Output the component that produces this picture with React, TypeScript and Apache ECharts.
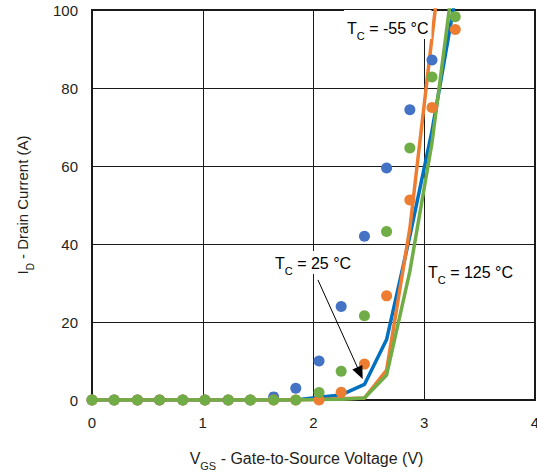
import React, { useEffect, useRef } from "react";
import * as echarts from "echarts";

const vgs = [0, 0.2, 0.41, 0.61, 0.82, 1.02, 1.23, 1.43, 1.64, 1.84, 2.05, 2.25, 2.46, 2.66, 2.87, 3.07, 3.28];

// measured points (dots)
const blueDots = [0, 0, 0, 0, 0, 0, 0, 0, 0.8, 3, 10, 24, 42, 59.5, 74.4, 87.2, null];
const orangeDots = [0, 0, 0, 0, 0, 0, 0, 0, 0, 0, 0, 2, 9.2, 26.7, 51.3, 75, 95];
const greenDots = [0, 0, 0, 0, 0, 0, 0, 0, 0, 0, 1.9, 7.4, 21.6, 43.2, 64.6, 82.8, 98.3];

// curves (lines)
const blueLine = [0, 0, 0, 0, 0, 0, 0, 0, 0, 0, 0.7, 1.3, 4, 15.5, 42, 69, 103];
const orangeLine = [0, 0, 0, 0, 0, 0, 0, 0, 0, 0, 0.1, 0.3, 0.5, 7.7, 44, 93, 144];
const greenLine = [0, 0, 0, 0, 0, 0, 0, 0, 0, 0, 0.1, 0.2, 0.5, 6.4, 33, 66, 112];

const xTicks = [0, 1, 2, 3, 4];
const yTicks = [0, 20, 40, 60, 80, 100];

// arrow for the 25 °C annotation: [start, end] in data units
const arrowStart = [2.04, 30.8];
const arrowEnd = [2.42, 6.9];

const FONT = "'Liberation Sans', Arial, sans-serif";
const TXT = "#231f20";

const zip = (xs: number[], ys: (number | null)[]) =>
  xs.map((x, i) => [x, ys[i]]).filter((p) => p[1] !== null);

export default function App() {
  const ref = useRef<HTMLDivElement>(null);
  useEffect(() => {
    if (!ref.current) return;
    const chart = echarts.init(ref.current, undefined, { renderer: "svg" });
    const lineSeries = (name: string, data: number[], color: string, extra: any = {}) => ({
      name,
      type: "line",
      data: zip(vgs, data),
      symbol: "none",
      smooth: false,
      lineStyle: { color, width: 3.5 },
      clip: true,
      z: 2,
      ...extra,
    });
    const dotSeries = (name: string, data: (number | null)[], color: string) => ({
      name,
      type: "scatter",
      data: zip(vgs, data),
      symbol: "circle",
      symbolSize: 11,
      itemStyle: { color, opacity: 1 },
      clip: true,
      z: 3,
    });
    const mkRich = (size: number) => ({
      sub: {
        fontSize: Math.round(size * 0.68),
        fontFamily: FONT,
        color: TXT,
        verticalAlign: "bottom",
        padding: [0, 0, -5, 0],
      },
      n: { fontSize: size, fontFamily: FONT, color: TXT },
    });
    const annot = (left: number, top: number, rest: string, padTop = 4) => ({
      type: "text",
      left,
      top,
      z: 100,
      style: {
        text: `{n|T}{sub|C}{n| = ${rest} °C}`,
        rich: mkRich(16),
        backgroundColor: "#fff",
        padding: [padTop, 3, 3, 3],
      },
    });
    chart.setOption({
      animation: false,
      backgroundColor: "#fff",
      grid: {
        left: 92,
        right: 2,
        top: 10,
        bottom: 73,
        outerBoundsMode: "none",
        containLabel: false,
        show: true,
        borderColor: "#1a1a1a",
        borderWidth: 2,
        backgroundColor: "transparent",
      },
      xAxis: {
        type: "value",
        min: xTicks[0],
        max: xTicks[xTicks.length - 1],
        interval: 1,
        name: "{n|V}{sub|GS}{n| - Gate-to-Source Voltage (V)}",
        nameLocation: "middle",
        nameGap: 50,
        nameTextStyle: { rich: mkRich(16), padding: [0, 14, 0, 0] },
        axisLine: { show: true, lineStyle: { color: "#1a1a1a", width: 2 } },
        axisTick: { show: false },
        axisLabel: { color: TXT, fontSize: 15, fontFamily: FONT, margin: 15 },
        splitLine: { show: true, lineStyle: { color: "#1a1a1a", width: 1 } },
      },
      yAxis: {
        type: "value",
        min: yTicks[0],
        max: yTicks[yTicks.length - 1],
        interval: 20,
        name: "{n|I}{sub|D}{n| - Drain Current (A)}",
        nameLocation: "middle",
        nameGap: 62,
        nameTextStyle: { rich: mkRich(15) },
        axisLine: { show: true, lineStyle: { color: "#1a1a1a", width: 2 } },
        axisTick: { show: false },
        axisLabel: { color: TXT, fontSize: 15, fontFamily: FONT, margin: 14 },
        splitLine: { show: true, lineStyle: { color: "#1a1a1a", width: 1 } },
      },
      series: [
        lineSeries("Blue curve", blueLine, "#0070c0", {
          markLine: {
            silent: true,
            symbol: ["none", "triangle"],
            symbolSize: [11, 13],
            label: { show: false },
            lineStyle: { color: "#000", width: 1, type: "solid" },
            data: [[{ coord: arrowStart }, { coord: arrowEnd }]],
            z: 50,
          },
        }),
        lineSeries("Orange curve", orangeLine, "#ed7d31"),
        lineSeries("Green curve", greenLine, "#70ad47"),
        dotSeries("Blue dots", blueDots, "#4472c4"),
        dotSeries("Orange dots", orangeDots, "#ed7d31"),
        dotSeries("Green dots", greenDots, "#70ad47"),
      ],
      graphic: [
        annot(344, 10, "-55", 10),
        annot(272, 251, "25"),
        annot(425, 260, "125"),
      ],
    });
    return () => chart.dispose();
  }, []);
  return (
    <div
      ref={ref}
      style={{ position: "fixed", left: 0, top: 0, width: 537, height: 473 }}
    />
  );
}
